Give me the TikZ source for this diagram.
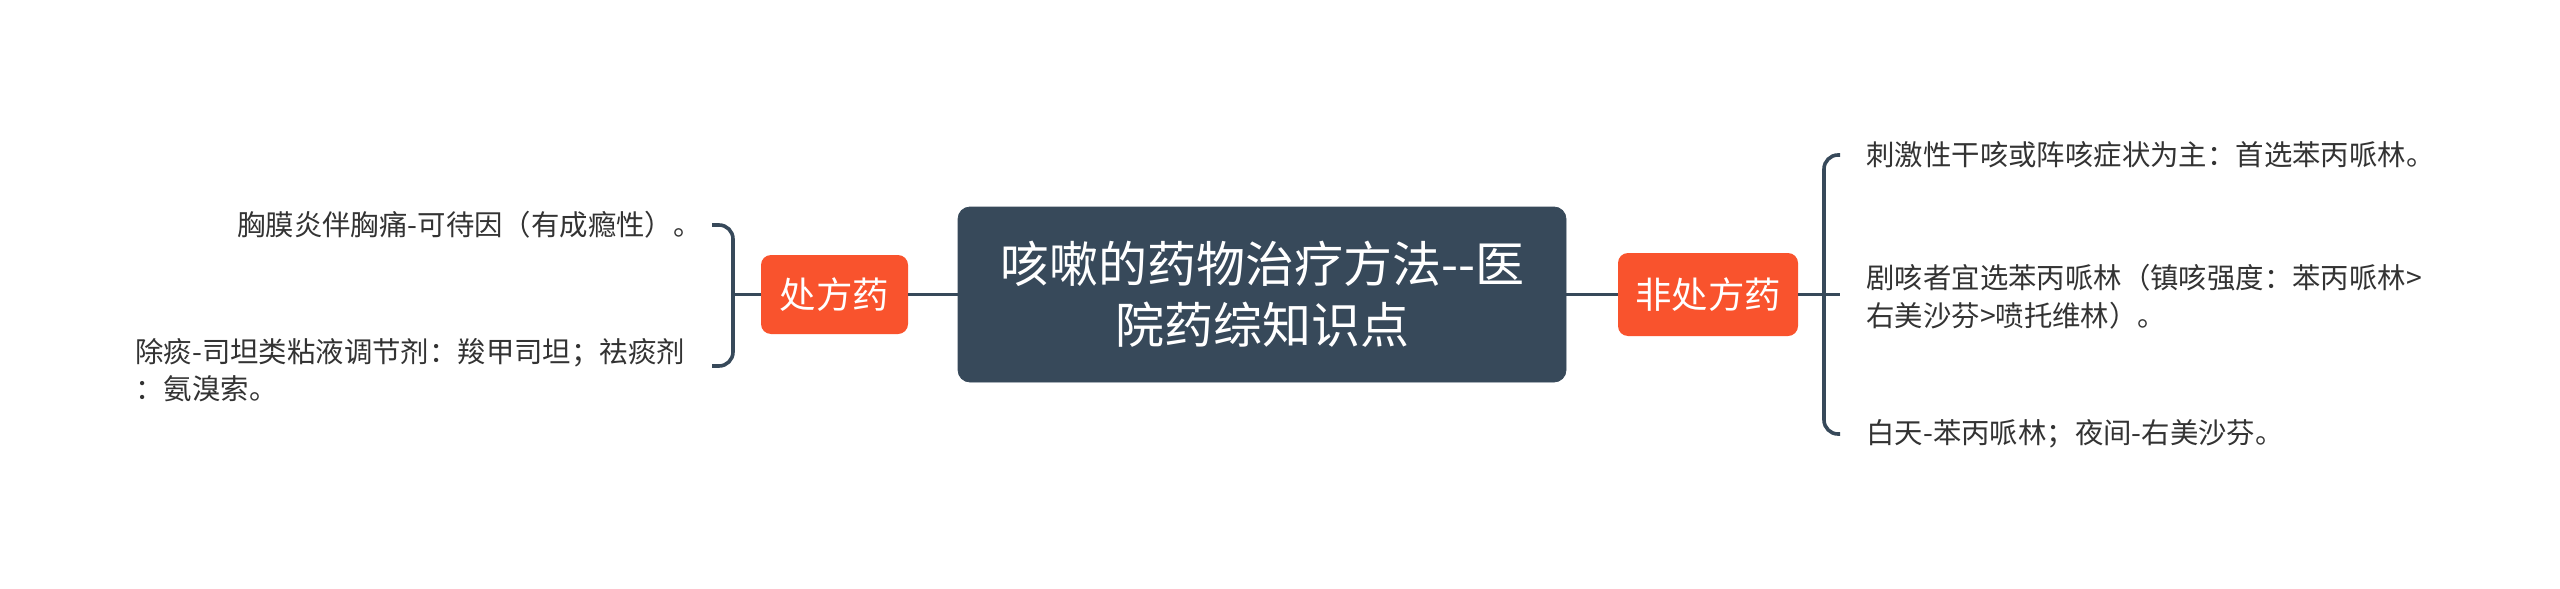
\documentclass[tikz,border=0pt]{standalone}
\usepackage{fontspec}
\setmainfont{Noto Sans CJK SC}
\definecolor{darkslate}{RGB}{55,73,90}
\definecolor{orangered}{RGB}{249,83,45}
\definecolor{leaftext}{RGB}{51,51,51}
\begin{document}
\begin{tikzpicture}[x=0.5pt,y=-0.5pt,
  conn/.style={draw=darkslate,line width=1.8pt},
  bracket/.style={conn,rounded corners=7pt},
  rootbox/.style={fill=darkslate,draw=darkslate,rounded corners=6pt,text=white,
    minimum width=304pt,minimum height=87.5pt,align=center,inner sep=0pt,
    font=\fontsize{24.5pt}{30.5pt}\selectfont},
  midbox/.style={fill=orangered,rounded corners=5pt,text=white,inner sep=0pt,
    font=\fontsize{18.2pt}{22pt}\selectfont},
  leaf/.style={text=leaftext,inner sep=0pt,font=\fontsize{14.2pt}{18.8pt}\selectfont}
]
\fill[white] (0,0) rectangle (2560,589);
\useasboundingbox (0,0) rectangle (2560,589);

\node[rootbox] (root) at (1262,294.5) {咳嗽的药物治疗方法-{}-医\\院药综知识点};
\node[midbox,minimum width=73.5pt,minimum height=39.5pt] (chu) at (834.5,294.5) {处方药};
\node[midbox,minimum width=90pt,minimum height=41.5pt] (fei) at (1708,294.5) {非处方药};

\node[leaf,anchor=east] (L1) at (702,225) {胸膜炎伴胸痛-可待因（有成瘾性）。};
\node[leaf,anchor=west,align=left] (L2) at (135,370) {除痰-司坦类粘液调节剂：羧甲司坦；祛痰剂\\：氨溴索。};

\node[leaf,anchor=west] (R1) at (1866,155) {刺激性干咳或阵咳症状为主：首选苯丙哌林。};
\node[leaf,anchor=west,align=left] (R2) at (1866,297) {剧咳者宜选苯丙哌林（镇咳强度：苯丙哌林>\\右美沙芬>喷托维林）。};
\node[leaf,anchor=west] (R3) at (1866,434) {白天-苯丙哌林；夜间-右美沙芬。};

\coordinate (lt) at (712,225);
\coordinate (lb) at (712,366);
\coordinate (lm) at (733,294.5);
\coordinate (rt) at (1840,155);
\coordinate (rb) at (1840,434);
\coordinate (rm) at (1840,294.5);

\draw[conn] (root.west) -- (chu.east);
\draw[conn] (root.east) -- (fei.west);
\draw[conn] (chu.west) -- (lm);
\draw[bracket] (lt) -- (733,225) -- (733,366) -- (lb);
\draw[conn] (fei.east) -- (rm);
\draw[bracket] (rt) -- (1824,155) -- (1824,434) -- (rb);
\end{tikzpicture}
\end{document}
